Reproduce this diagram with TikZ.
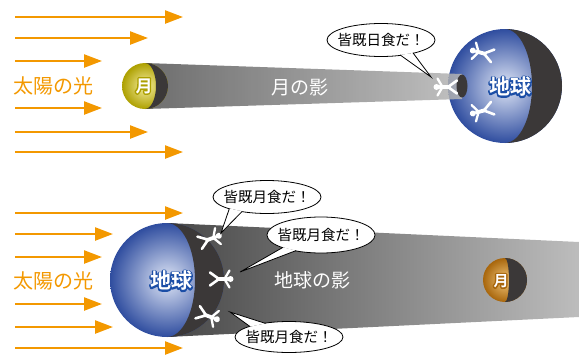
\documentclass[tikz,border=0pt]{standalone}
\usepackage{fontspec}
\setmainfont{Noto Sans CJK JP}[BoldFont={Noto Sans CJK JP Bold}]
\usetikzlibrary{arrows.meta,shapes.geometric,calc}

\definecolor{sunorange}{HTML}{F39800}
\definecolor{nightside}{HTML}{3B3838}
\definecolor{earthblue}{HTML}{2F4D9F}
\definecolor{earthlight}{HTML}{DFE6F6}
\definecolor{earthrim}{HTML}{1B4EA6}
\definecolor{moonolive}{HTML}{ADA000}
\definecolor{moonpale}{HTML}{F6EEA0}
\definecolor{moonbrown}{HTML}{A8660C}
\definecolor{moontan}{HTML}{F2C679}

% stroked copy of the text under the filled one
\newcommand\rimtext[2]{\leavevmode\rlap{\textcolor{#1}{\special{pdf:literal direct 1 j 2.8 w 2 Tr}#2\special{pdf:literal direct 0 Tr}}}#2}

\begin{document}
\begin{tikzpicture}[x=1pt, y=-1pt,
  ray/.style={draw=sunorange, line width=2.4pt, -{Triangle[length=18pt,width=13pt]}},
  sunlbl/.style={text=sunorange, font=\fontsize{20}{24}\selectfont},
  shadelbl/.style={text=white, font=\fontsize{19}{23}\selectfont},
  globelbl/.style={text=white, font=\bfseries\fontsize{21}{24}\selectfont},
  moonlbl/.style={text=white, font=\bfseries\fontsize{17}{20}\selectfont},
  bubble/.style={ellipse, draw, line width=0.8pt, fill=white, inner sep=0pt,
    minimum width=108pt, minimum height=33pt},
  saying/.style={font=\fontsize{14.5}{17}\selectfont},
  person/.pic={
    \fill[white] (9.5,0) circle (3);
    \draw[white, line width=3.8pt, line cap=round] (6,0) -- (-3,0);
    \draw[white, line width=2.3pt, line cap=round, line join=round] (8.5,-8.5) -- (3.5,0) -- (8.5,8.5);
    \draw[white, line width=2.6pt, line cap=round, line join=round] (-11,-6.5) -- (-2,0) -- (-11,6.5);
  }]
  \useasboundingbox (0,0) rectangle (579,354);

  % --- solar eclipse ---
  \foreach \i/\y/\e in {1/17/183, 2/38/148, 3/61/102, 4/108/102, 5/132/148, 6/152/183} {
    \coordinate (ta\i) at (15,\y);
    \coordinate (tb\i) at (\e,\y);
    \draw[ray] (ta\i) -- (tb\i);
  }
  \node[sunlbl] (sunA) at (53,86) {太陽の光};

  % earth, lit side and night side
  \shade[inner color=earthlight, outer color=earthblue] (505,86) circle (57);
  \fill[nightside] (505,29) arc[start angle=270, end angle=450, radius=57]
    arc[start angle=90, end angle=-90, x radius=27, y radius=57] -- cycle;

  % moon shadow
  \shade[left color=black!67, right color=black!29, opacity=0.85]
    (145,63) -- (462,74) -- (462,99) -- (145,109) -- cycle;
  \fill[nightside] (462,86) ellipse[x radius=5.5, y radius=11.5];
  \node[shadelbl] (mshadow) at (300,87) {月の影};

  % moon
  \shade[inner color=moonpale, outer color=moonolive] (145,86) circle (23);
  \fill[nightside] (145,63) arc[start angle=270, end angle=450, radius=23]
    arc[start angle=90, end angle=-90, x radius=11, y radius=23] -- cycle;
  \node[moonlbl] (moonA) at (144,86) {\rimtext{moonolive}{月}};

  \node[globelbl] (earthA) at (510,87) {\rimtext{earthrim}{地球}};
  \pic[rotate=180] at (446,87) {person};
  \pic[rotate=165] at (482,53) {person};
  \pic[rotate=195] at (482,111) {person};

  \node[bubble] (solar) at (381,40) {};
  \node[saying] (solartxt) at (solar) {皆既日食だ！};
  \coordinate (solartip) at (431,77);
  \fill[white] ($(solar.322)!1.2pt!(solar.center)$) -- (solartip) -- ($(solar.338)!1.2pt!(solar.center)$) -- cycle;
  \draw[line width=0.8pt] ($(solar.322)!1.2pt!(solar.center)$) -- (solartip) -- ($(solar.338)!1.2pt!(solar.center)$);

  % --- lunar eclipse ---
  \foreach \i/\y/\e in {1/213/183, 2/234/113, 3/257/102, 4/304/102, 5/327/113, 6/348/183} {
    \coordinate (la\i) at (15,\y);
    \coordinate (lb\i) at (\e,\y);
    \draw[ray] (la\i) -- (lb\i);
  }
  \node[sunlbl] (sunB) at (53,281) {太陽の光};

  % earth shadow
  \shade[left color=black!72, right color=black!26]
    (167,223) -- (579,242) -- (579,317) -- (167,337) -- cycle;
  \node[shadelbl] (eshadow) at (312,280) {地球の影};

  % moon inside the shadow
  \shade[inner color=moontan, outer color=moonbrown] (505,280) circle (22);
  \fill[nightside] (505,258) arc[start angle=270, end angle=450, radius=22]
    arc[start angle=90, end angle=-90, x radius=4, y radius=22] -- cycle;
  \node[moonlbl, font=\bfseries\fontsize{15}{18}\selectfont] (moonB) at (501,281) {\rimtext{moonbrown}{月}};

  % earth
  \shade[inner color=earthlight, outer color=earthblue] (167,280) circle (57);
  \fill[nightside] (167,223) arc[start angle=270, end angle=450, radius=57]
    arc[start angle=90, end angle=-90, x radius=28, y radius=57] -- cycle;
  \node[globelbl] (earthB) at (171,281) {\rimtext{earthrim}{地球}};
  \pic[rotate=20] at (210,239) {person};
  \pic at (221,279) {person};
  \pic[rotate=-20] at (208,316) {person};

  \node[bubble] (lunarA) at (267,197) {};
  \node[saying] (lunarAtxt) at (lunarA) {皆既月食だ！};
  \coordinate (lunarAtip) at (221,233);
  \fill[white] ($(lunarA.197)!1.2pt!(lunarA.center)$) -- (lunarAtip) -- ($(lunarA.210)!1.2pt!(lunarA.center)$) -- cycle;
  \draw[line width=0.8pt] ($(lunarA.197)!1.2pt!(lunarA.center)$) -- (lunarAtip) -- ($(lunarA.210)!1.2pt!(lunarA.center)$);

  \node[bubble, minimum height=36pt] (lunarB) at (321,235) {};
  \node[saying] (lunarBtxt) at (lunarB) {皆既月食だ！};
  \coordinate (lunarBtip) at (240,272);
  \fill[white] ($(lunarB.198)!1.2pt!(lunarB.center)$) -- (lunarBtip) -- ($(lunarB.212)!1.2pt!(lunarB.center)$) -- cycle;
  \draw[line width=0.8pt] ($(lunarB.198)!1.2pt!(lunarB.center)$) -- (lunarBtip) -- ($(lunarB.212)!1.2pt!(lunarB.center)$);

  \node[bubble, minimum height=31pt] (lunarC) at (289,337) {};
  \node[saying] (lunarCtxt) at (lunarC) {皆既月食だ！};
  \coordinate (lunarCtip) at (230,312);
  \fill[white] ($(lunarC.165)!1.2pt!(lunarC.center)$) -- (lunarCtip) -- ($(lunarC.150)!1.2pt!(lunarC.center)$) -- cycle;
  \draw[line width=0.8pt] ($(lunarC.165)!1.2pt!(lunarC.center)$) -- (lunarCtip) -- ($(lunarC.150)!1.2pt!(lunarC.center)$);
\end{tikzpicture}
\end{document}
